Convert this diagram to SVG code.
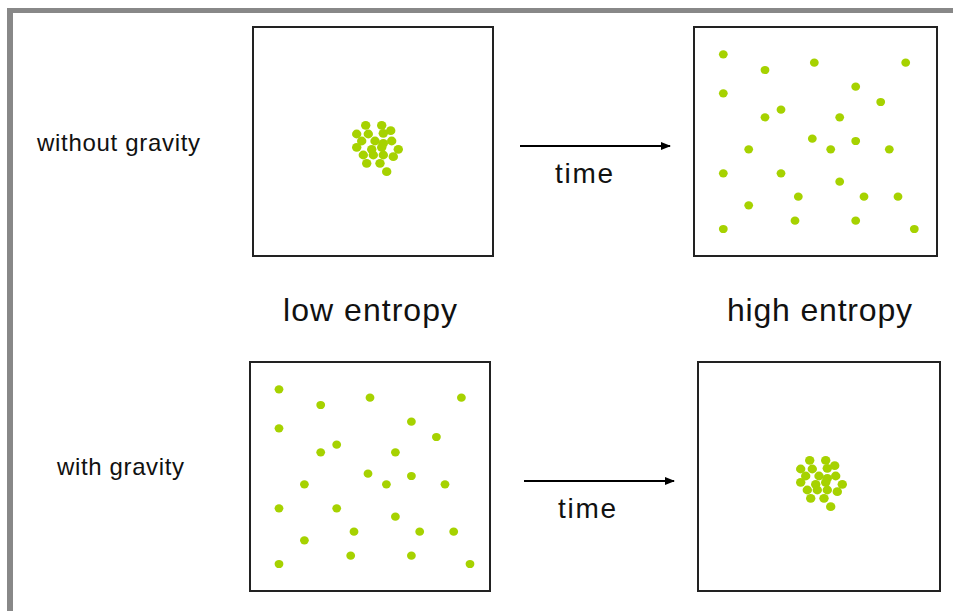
<svg xmlns="http://www.w3.org/2000/svg" xmlns:xlink="http://www.w3.org/1999/xlink" width="953" height="611" viewBox="0 0 953 611">
<style>
.box{fill:#fff;stroke:#222;stroke-width:2}
.d{fill:#a6d200}
.c{fill:#a6d200}
.lbl{font-family:"Liberation Sans",Arial,sans-serif;fill:#111}
.arr{stroke:#000;stroke-width:2;fill:none}
</style>
<defs>
<marker id="ah" markerWidth="10" markerHeight="8" refX="9" refY="4" orient="auto" markerUnits="userSpaceOnUse">
<path d="M0,0 L10,4 L0,8 z" fill="#000"/>
</marker>
<g id="scatter">
<ellipse class="d" cx="0" cy="0" rx="4.4" ry="4.1"/>
<ellipse class="d" cx="41.7" cy="15.7" rx="4.4" ry="4.1"/>
<ellipse class="d" cx="91" cy="8.4" rx="4.4" ry="4.1"/>
<ellipse class="d" cx="182.4" cy="8.4" rx="4.4" ry="4.1"/>
<ellipse class="d" cx="0" cy="39" rx="4.4" ry="4.1"/>
<ellipse class="d" cx="132.4" cy="32.4" rx="4.4" ry="4.1"/>
<ellipse class="d" cx="157.4" cy="47.7" rx="4.4" ry="4.1"/>
<ellipse class="d" cx="41.7" cy="63" rx="4.4" ry="4.1"/>
<ellipse class="d" cx="57.7" cy="55.4" rx="4.4" ry="4.1"/>
<ellipse class="d" cx="116.4" cy="63" rx="4.4" ry="4.1"/>
<ellipse class="d" cx="89" cy="84.4" rx="4.4" ry="4.1"/>
<ellipse class="d" cx="132.4" cy="86.7" rx="4.4" ry="4.1"/>
<ellipse class="d" cx="25.4" cy="95" rx="4.4" ry="4.1"/>
<ellipse class="d" cx="107.4" cy="95" rx="4.4" ry="4.1"/>
<ellipse class="d" cx="166" cy="95" rx="4.4" ry="4.1"/>
<ellipse class="d" cx="0" cy="119" rx="4.4" ry="4.1"/>
<ellipse class="d" cx="57.7" cy="119" rx="4.4" ry="4.1"/>
<ellipse class="d" cx="116.4" cy="127.4" rx="4.4" ry="4.1"/>
<ellipse class="d" cx="75" cy="142.4" rx="4.4" ry="4.1"/>
<ellipse class="d" cx="140.7" cy="142.4" rx="4.4" ry="4.1"/>
<ellipse class="d" cx="174.7" cy="142.4" rx="4.4" ry="4.1"/>
<ellipse class="d" cx="25.4" cy="151" rx="4.4" ry="4.1"/>
<ellipse class="d" cx="71.7" cy="166.4" rx="4.4" ry="4.1"/>
<ellipse class="d" cx="132.4" cy="166.4" rx="4.4" ry="4.1"/>
<ellipse class="d" cx="0" cy="174.7" rx="4.4" ry="4.1"/>
<ellipse class="d" cx="191" cy="174.7" rx="4.4" ry="4.1"/>
</g>
<g id="cluster">
<ellipse class="c" cx="365.7" cy="125.3" rx="4.7" ry="4.4"/>
<ellipse class="c" cx="381.7" cy="125.3" rx="4.7" ry="4.4"/>
<ellipse class="c" cx="390.7" cy="130.7" rx="4.7" ry="4.4"/>
<ellipse class="c" cx="383.3" cy="133.3" rx="4.7" ry="4.4"/>
<ellipse class="c" cx="356.7" cy="134" rx="4.7" ry="4.4"/>
<ellipse class="c" cx="368.3" cy="134" rx="4.7" ry="4.4"/>
<ellipse class="c" cx="361.7" cy="141" rx="4.7" ry="4.4"/>
<ellipse class="c" cx="375" cy="141" rx="4.7" ry="4.4"/>
<ellipse class="c" cx="391.7" cy="141" rx="4.7" ry="4.4"/>
<ellipse class="c" cx="383.3" cy="143.3" rx="4.7" ry="4.4"/>
<ellipse class="c" cx="356.7" cy="147.3" rx="4.7" ry="4.4"/>
<ellipse class="c" cx="371.7" cy="149.3" rx="4.7" ry="4.4"/>
<ellipse class="c" cx="381.7" cy="147.3" rx="4.7" ry="4.4"/>
<ellipse class="c" cx="398.3" cy="149.3" rx="4.7" ry="4.4"/>
<ellipse class="c" cx="363.3" cy="155" rx="4.7" ry="4.4"/>
<ellipse class="c" cx="373.3" cy="155" rx="4.7" ry="4.4"/>
<ellipse class="c" cx="383.3" cy="155" rx="4.7" ry="4.4"/>
<ellipse class="c" cx="393.3" cy="156.7" rx="4.7" ry="4.4"/>
<ellipse class="c" cx="366.7" cy="163.3" rx="4.7" ry="4.4"/>
<ellipse class="c" cx="380" cy="163.3" rx="4.7" ry="4.4"/>
<ellipse class="c" cx="386.7" cy="171.7" rx="4.7" ry="4.4"/>
</g>
</defs>
<rect width="953" height="611" fill="#fff"/>
<g id="frame" fill="#888">
<rect x="7" y="8" width="946" height="5"/>
<rect x="7" y="8" width="6" height="603"/>
</g>
<g id="box-top-left">
<rect class="box" x="253" y="27" width="240" height="229"/>
<use xlink:href="#cluster"/>
</g>
<g id="box-top-right">
<rect class="box" x="694" y="27" width="243" height="229"/>
<use xlink:href="#scatter" x="723.3" y="54.3"/>
</g>
<g id="box-bottom-left">
<rect class="box" x="250" y="362" width="240" height="229"/>
<use xlink:href="#scatter" x="279" y="389.3"/>
</g>
<g id="box-bottom-right">
<rect class="box" x="698" y="362" width="242" height="229"/>
<use xlink:href="#cluster" x="444" y="335"/>
</g>
<g id="connectors">
<line class="arr" x1="520" y1="146" x2="670" y2="146" marker-end="url(#ah)"/>
<line class="arr" x1="524" y1="481" x2="674" y2="481" marker-end="url(#ah)"/>
</g>
<g id="labels" class="lbl">
<text x="37" y="151" font-size="24" textLength="163" lengthAdjust="spacing">without gravity</text>
<text x="57" y="475" font-size="24" textLength="127" lengthAdjust="spacing">with gravity</text>
<text x="555" y="183" font-size="28" textLength="58" lengthAdjust="spacing">time</text>
<text x="558" y="518" font-size="28" textLength="58" lengthAdjust="spacing">time</text>
<text x="283" y="321" font-size="32" textLength="174" lengthAdjust="spacing">low entropy</text>
<text x="727" y="321" font-size="32" textLength="185" lengthAdjust="spacing">high entropy</text>
</g>
</svg>
